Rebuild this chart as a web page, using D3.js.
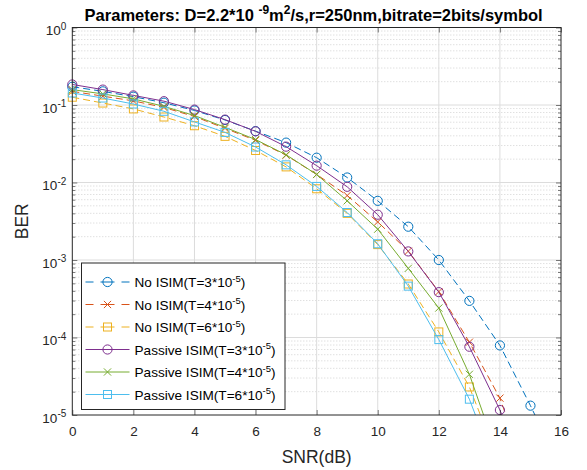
<!DOCTYPE html>
<html>
<head>
<meta charset="utf-8">
<script src="https://cdn.jsdelivr.net/npm/d3@7"></script>
<style>
    body { margin:0; background:#fff; }
    svg { display:block; font-family:'Liberation Sans', Arial, Helvetica, sans-serif; }
    .tick line { stroke:#262626; stroke-width:0.6; }
    .grid-major { stroke:#dcdcdc; stroke-width:1; }
    .grid-minor { stroke:#c0c0c0; stroke-width:0.7; stroke-dasharray:1,2; }
</style>
</head>
<body>
<div id="chart"></div>
<script>
(function(window) {
    'use strict';

    // SNR (dB) sample points
    var snr = [0,1,2,3,4,5,6,7,8,9,10,11,12,13,14,15,16];

    // BER values (last point of each curve falls below the axis)
    var noIsimT3  = [0.172,0.150,0.128,0.107,0.085,0.064,0.046,0.0327,0.0209,0.0116,5.8e-3,2.69e-3,1.0e-3,2.97e-4,7.9e-5,1.32e-5,2.0e-6];
    var noIsimT4  = [0.150,0.130,0.113,0.093,0.071,0.050,0.035,0.0225,0.0127,6.8e-3,3.1e-3,1.3e-3,3.9e-4,8.7e-5,1.65e-5,1.3e-6];
    var noIsimT6  = [0.126,0.106,0.089,0.070,0.054,0.0394,0.0259,0.0159,8.3e-3,4.0e-3,1.58e-3,4.9e-4,1.18e-4,2.3e-5,2.3e-6];
    var passiveT3 = [0.184,0.158,0.133,0.112,0.0873,0.0648,0.0457,0.029,0.0165,8.8e-3,3.84e-3,1.29e-3,3.85e-4,7.6e-5,1.16e-5,1.2e-6];
    var passiveT4 = [0.158,0.139,0.120,0.096,0.073,0.0515,0.0358,0.0228,0.0127,5.8e-3,2.5e-3,7.8e-4,2.4e-4,3.35e-5,2.5e-6];
    var passiveT6 = [0.143,0.123,0.103,0.083,0.0605,0.0443,0.0287,0.0169,8.9e-3,4.1e-3,1.62e-3,4.6e-4,9.4e-5,1.6e-5,1.5e-6];

    var xTicks = [0,2,4,6,8,10,12,14,16];
    var yExps  = [0,-1,-2,-3,-4,-5];

    var series = [
        { name:'No ISIM(T=3*10', values:noIsimT3,  color:'#0072BD', dash:true,  marker:'circle' },
        { name:'No ISIM(T=4*10', values:noIsimT4,  color:'#D95319', dash:true,  marker:'x' },
        { name:'No ISIM(T=6*10', values:noIsimT6,  color:'#EDB120', dash:true,  marker:'square' },
        { name:'Passive ISIM(T=3*10', values:passiveT3, color:'#7E2F8E', dash:false, marker:'circle' },
        { name:'Passive ISIM(T=4*10', values:passiveT4, color:'#77AC30', dash:false, marker:'x' },
        { name:'Passive ISIM(T=6*10', values:passiveT6, color:'#4DBEEE', dash:false, marker:'square' }
    ];

    var W = 587, H = 470,
        X0 = 72.3, X1 = 561, Y0 = 27.5, Y1 = 415;

    var svg = d3.select('#chart').append('svg')
        .attr('width', W)
        .attr('height', H);

    var x = d3.scaleLinear().domain([0,16]).range([X0,X1]),
        y = d3.scaleLog().domain([1e-5,1]).range([Y1,Y0]);

    var minors = [];
    yExps.forEach(function(e) {
        if (e === 0) return;
        for (var m = 2; m <= 9; m++) minors.push(m * Math.pow(10, e));
    });

    /******************************************************************
        grid
     ******************************************************************/
    var grid = svg.append('g').attr('class','grid');

    grid.selectAll('.grid-minor')
        .data(minors).enter()
            .append('line')
            .attr('class','grid-minor')
            .attr('x1', X0).attr('x2', X1)
            .attr('y1', function(d){ return y(d); })
            .attr('y2', function(d){ return y(d); });

    grid.selectAll('.gx')
        .data(xTicks.slice(1,-1)).enter()
            .append('line')
            .attr('class','grid-major')
            .attr('x1', function(d){ return x(d); })
            .attr('x2', function(d){ return x(d); })
            .attr('y1', Y0).attr('y2', Y1);

    grid.selectAll('.gy')
        .data(yExps.slice(1,-1)).enter()
            .append('line')
            .attr('class','grid-major')
            .attr('x1', X0).attr('x2', X1)
            .attr('y1', function(d){ return y(Math.pow(10,d)); })
            .attr('y2', function(d){ return y(Math.pow(10,d)); });

    /******************************************************************
        curves
     ******************************************************************/
    svg.append('clipPath').attr('id','clip')
        .append('rect')
        .attr('x', X0).attr('y', Y0)
        .attr('width', X1 - X0).attr('height', Y1 - Y0);

    var line = d3.line()
        .x(function(d,i){ return x(snr[i]); })
        .y(function(d){ return y(d); });

    function marker(g, type, color) {
        if (type === 'circle')
            g.append('circle').attr('r', 4.6);
        else if (type === 'square')
            g.append('rect').attr('x',-4).attr('y',-4).attr('width',8).attr('height',8);
        else
            g.append('path').attr('d','M-3.6,-3.6L3.6,3.6M-3.6,3.6L3.6,-3.6');

        g.selectAll('*')
            .attr('fill','none')
            .attr('stroke', color)
            .attr('stroke-width', 1);
    }

    var curves = svg.append('g').attr('class','curves');

    series.forEach(function(s) {
        curves.append('path')
            .attr('clip-path','url(#clip)')
            .attr('d', line(s.values))
            .attr('fill','none')
            .attr('stroke', s.color)
            .attr('stroke-width', 1)
            .attr('stroke-dasharray', s.dash ? '7,4' : null);

        s.values.forEach(function(v,i) {
            if (v < 1e-5) return;
            var g = curves.append('g')
                .attr('transform','translate('+ [x(snr[i]), y(v)] +')');
            marker(g, s.marker, s.color);
        });
    });

    /******************************************************************
        axes
     ******************************************************************/
    var xb = svg.append('g')
        .attr('class','axis')
        .attr('transform','translate(0,'+ Y1 +')')
        .call(d3.axisBottom(x).tickValues(xTicks).tickSizeInner(-5).tickSizeOuter(0).tickPadding(11));

    svg.append('g')
        .attr('transform','translate(0,'+ Y0 +')')
        .call(d3.axisTop(x).tickValues(xTicks).tickSizeInner(-5).tickSizeOuter(0).tickFormat(''));

    var yl = svg.append('g')
        .attr('class','axis')
        .attr('transform','translate('+ X0 +',0)')
        .call(d3.axisLeft(y).tickValues(yExps.map(function(e){ return Math.pow(10,e); }))
                .tickSizeInner(-5).tickSizeOuter(0).tickPadding(6).tickFormat(''));

    svg.append('g')
        .attr('transform','translate('+ X0 +',0)')
        .call(d3.axisLeft(y).tickValues(minors).tickSizeInner(-3).tickSizeOuter(0).tickFormat(''));

    svg.append('g')
        .attr('transform','translate('+ X1 +',0)')
        .call(d3.axisRight(y).tickValues(yExps.map(function(e){ return Math.pow(10,e); }))
                .tickSizeInner(-5).tickSizeOuter(0).tickFormat(''));

    svg.append('g')
        .attr('transform','translate('+ X1 +',0)')
        .call(d3.axisRight(y).tickValues(minors).tickSizeInner(-3).tickSizeOuter(0).tickFormat(''));

    svg.selectAll('.domain').remove();

    xb.selectAll('.tick text')
        .attr('fill','#262626')
        .style('font-size','13.5px')
        .style('font-family','inherit');

    yl.selectAll('.tick text').each(function(d) {
        var t = d3.select(this)
            .attr('fill','#262626')
            .attr('dy', '0.55em')
            .style('font-size','13.5px')
            .style('font-family','inherit');
        t.append('tspan').text('10');
        t.append('tspan')
            .attr('dy','-0.55em')
            .style('font-size','10px')
            .text(String(Math.round(Math.log10(d))));
    });

    svg.append('rect')
        .attr('x', X0).attr('y', Y0)
        .attr('width', X1 - X0).attr('height', Y1 - Y0)
        .attr('fill','none')
        .attr('stroke','#262626')
        .attr('stroke-width', 1);

    svg.append('text')
        .attr('x', (X0 + X1) / 2)
        .attr('y', 463)
        .attr('text-anchor','middle')
        .attr('fill','#262626')
        .style('font-size','17.5px')
        .text('SNR(dB)');

    svg.append('text')
        .attr('transform','translate(28,'+ ((Y0 + Y1) / 2) +') rotate(-90)')
        .attr('text-anchor','middle')
        .attr('fill','#262626')
        .style('font-size','17.5px')
        .text('BER');

    /******************************************************************
        title
     ******************************************************************/
    var title = svg.append('text')
        .attr('x', (X0 + X1) / 2 - 3)
        .attr('y', 20.5)
        .attr('text-anchor','middle')
        .attr('fill','#000')
        .style('font-size','16.5px')
        .style('font-weight','bold');

    title.append('tspan').text('Parameters: D=2.2*10 ');
    title.append('tspan').attr('dy',-7).style('font-size','12px').text('-9');
    title.append('tspan').attr('dy',7).text('m');
    title.append('tspan').attr('dy',-7).style('font-size','12px').text('2');
    title.append('tspan').attr('dy',7).text('/s,r=250nm,bitrate=2bits/symbol');

    /******************************************************************
        legend
     ******************************************************************/
    var LX = 81.5, LY = 263, LW = 203.5, LH = 146.5;

    var legend = svg.append('g').attr('class','legend');

    legend.append('rect')
        .attr('x', LX).attr('y', LY)
        .attr('width', LW).attr('height', LH)
        .attr('fill','#fff')
        .attr('stroke','#262626')
        .attr('stroke-width', 1);

    series.forEach(function(s,i) {
        var cy = LY + 19 + i * 22.5;

        legend.append('line')
            .attr('x1', LX + 4).attr('x2', LX + 48)
            .attr('y1', cy).attr('y2', cy)
            .attr('stroke', s.color)
            .attr('stroke-width', 1)
            .attr('stroke-dasharray', s.dash ? '8,7,14,7,8' : null);

        marker(legend.append('g').attr('transform','translate('+ [LX + 26, cy] +')'), s.marker, s.color);

        var t = legend.append('text')
            .attr('x', LX + 53)
            .attr('y', cy + 5)
            .attr('fill','#000')
            .style('font-size','13.6px');
        t.append('tspan').text(s.name);
        t.append('tspan').attr('dy',-5.5).style('font-size','9.5px').text('-5');
        t.append('tspan').attr('dy',5.5).text(')');
    });

})(window);
</script>
</body>
</html>
